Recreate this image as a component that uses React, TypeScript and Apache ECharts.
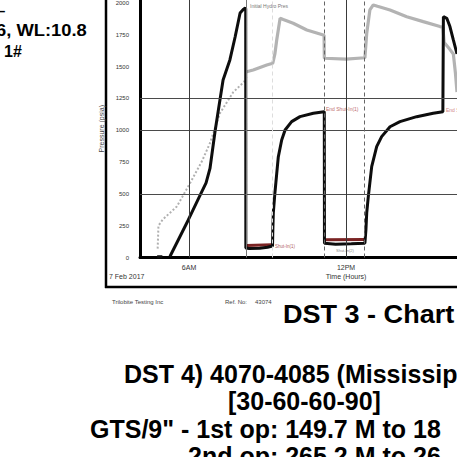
import React, { useEffect, useRef } from 'react';
import * as echarts from 'echarts';

const FONT = '"Liberation Sans", Arial, Helvetica, sans-serif';

// time in hours since midnight, pressure in psia
const blackGauge: (number | string)[][] = [
  [4.78, 6], [4.98, 6], [5.1, '-'],
  [5.27, 8], [5.97, 295], [6.4, 480], [6.65, 586], [6.8, 700], [6.99, 987], [7.18, 1238],
  [7.3, 1395], [7.56, 1553], [7.76, 1733], [7.95, 1922], [8.07, 1950], [8.15, 1962],
  [8.165, 1955], [8.17, 75], [8.3, 70], [8.7, 72], [9.0, 80], [9.19, 90],
  [9.2, 200], [9.22, 350], [9.28, 505], [9.35, 660], [9.41, 790], [9.54, 924], [9.67, 1002],
  [9.92, 1068], [10.24, 1107], [10.75, 1134], [11.16, 1146],
  [11.168, 1140], [11.175, 112], [11.6, 105], [12.2, 108], [12.72, 112],
  [12.76, 220], [12.79, 350], [12.85, 478], [12.98, 714], [13.17, 871], [13.36, 950],
  [13.68, 1028], [14.06, 1068], [14.7, 1107], [15.33, 1134], [15.7, 1146],
  [15.715, 1146], [15.72, 1893], [15.85, 1880], [15.97, 1815], [16.1, 1710], [16.24, 1600],
];

const grayRise: number[][] = [
  [4.8, 70], [4.83, 250], [5.0, 300], [5.53, 400], [6.04, 585], [6.5, 760], [6.8, 900],
  [7.18, 1134], [7.69, 1300], [8.1, 1380], [8.2, 1421],
];

const grayGauge: number[][] = [
  [8.2, 1460], [8.45, 1474], [8.97, 1513], [9.2, 1527], [9.28, 1600], [9.35, 1710],
  [9.48, 1880], [9.6, 1870], [9.98, 1841], [10.5, 1788], [11.13, 1749], [11.16, 1745],
  [11.17, 1566], [12.0, 1560], [12.72, 1570], [12.79, 1762], [12.91, 1946], [13.04, 1985],
  [13.2, 1975], [13.68, 1946], [14.32, 1893], [14.95, 1854], [15.59, 1815], [15.7, 1810],
  [15.75, 1690], [15.95, 1640], [16.1, 1600], [16.18, 1450], [16.24, 1300],
];

const redFlow: (number | string)[][] = [
  [8.2, 95], [9.18, 100], [9.19, '-'], [11.18, 140], [12.72, 142],
];

const gridLevels = [500, 1000, 1250];
const hourLines = [6, 12];
const dashedTimes = [11.16, 12.69];
const faintDashedTimes = [9.19];
const markerTimes = [8.2];

const xTickLabels: [number, string][] = [
  [6, '6AM'],
  [12, '12PM\nTime (Hours)'],
];
const yTickStep = 250;

export default function App() {
  const ref = useRef<HTMLDivElement>(null);

  useEffect(() => {
    if (!ref.current) return;
    const chart = echarts.init(ref.current, undefined, { renderer: 'svg' });

    const markData: any[] = [
      ...gridLevels.map((v) => ({ yAxis: v, lineStyle: { color: '#4a4a4a', width: 1, type: 'solid' } })),
      ...hourLines.map((v) => ({ xAxis: v, lineStyle: { color: '#3a3a3a', width: 1, type: 'solid' } })),
      ...markerTimes.map((v) => ({ xAxis: v, lineStyle: { color: '#777', width: 1, type: 'solid' } })),
      ...dashedTimes.map((v) => ({ xAxis: v, lineStyle: { color: '#666', width: 1, type: [4, 3] } })),
      ...faintDashedTimes.map((v) => ({ xAxis: v, lineStyle: { color: '#ddd', width: 1, type: [4, 3] } })),
    ];

    const tinyText = (text: string, x: number, y: number, fill: string, size = 5) => ({
      type: 'text', x, y, silent: true,
      style: { text, fill, fontSize: size, fontFamily: FONT, align: 'left', verticalAlign: 'middle' },
    });
    const bigText = (text: string, x: number, y: number, size: number, scaleX = 1) => ({
      type: 'text', x, y, scaleX, silent: true,
      style: { text, fill: '#000', fontSize: size, fontWeight: 'bold', fontFamily: FONT, align: 'left', verticalAlign: 'middle' },
    });

    const option: any = {
      animation: false,
      backgroundColor: '#ffffff',
      grid: { left: 140, right: 0, top: 0, bottom: 199.5, containLabel: false, outerBoundsMode: 'none' },
      xAxis: {
        type: 'value', min: 4.125, max: 16.24, interval: 0.125,
        axisLine: { show: true, onZero: false, lineStyle: { color: '#000', width: 3 } },
        axisTick: { show: false },
        splitLine: { show: false },
        axisLabel: {
          show: true, margin: 5, fontSize: 7, lineHeight: 9, color: '#333', fontFamily: FONT,
          showMinLabel: false, showMaxLabel: false,
          formatter: (v: number) => {
            const f = xTickLabels.find((t) => Math.abs(t[0] - v) < 1e-6);
            return f ? f[1] : '';
          },
        },
      },
      yAxis: {
        type: 'value', min: 0, max: 2024, interval: yTickStep,
        name: 'Pressure (psia)', nameLocation: 'middle', nameGap: 29, nameRotate: 90,
        nameTextStyle: { fontSize: 7, color: '#444', fontFamily: FONT },
        axisLine: { show: true, lineStyle: { color: '#000', width: 3 } },
        axisTick: { show: false },
        splitLine: { show: false },
        axisLabel: {
          margin: 11, fontSize: 6, color: '#333', fontFamily: FONT,
          formatter: (v: number) => (Math.abs(v % yTickStep) < 1e-6 ? String(v) : ''),
        },
      },
      series: [
        {
          type: 'line', data: [], z: 1, silent: true,
          markLine: { silent: true, symbol: 'none', label: { show: false }, animation: false, data: markData },
        },
        {
          type: 'line', data: grayRise, z: 2, symbol: 'none', silent: true,
          lineStyle: { color: '#b0b0b0', width: 2, type: [2, 2] },
        },
        {
          type: 'line', data: grayGauge, z: 2, symbol: 'none', silent: true,
          lineStyle: { color: '#b3b3b3', width: 3.2 },
        },
        {
          type: 'line', data: redFlow, z: 3, symbol: 'none', silent: true, connectNulls: false,
          lineStyle: { color: '#7a2323', width: 3 },
        },
        {
          type: 'line', data: blackGauge, z: 4, symbol: 'none', silent: true, connectNulls: false,
          lineStyle: { color: '#0d0d0d', width: 3 },
        },
      ],
      graphic: [
        { type: 'line', silent: true, shape: { x1: 106, y1: 0, x2: 106, y2: 288 }, style: { stroke: '#000', lineWidth: 2.5 } },
        { type: 'line', silent: true, shape: { x1: 105, y1: 287, x2: 457, y2: 287 }, style: { stroke: '#000', lineWidth: 2.5 } },
        tinyText('7 Feb 2017', 109, 276, '#333', 7),
        tinyText('Initial Hydro Pres', 250, 6, '#777', 5),
        tinyText('Shut-In(1)', 275, 246, '#b06060', 4.5),
        tinyText('End Shut-In(1)', 326, 109, '#c07070', 5),
        tinyText('End Shut-In(2)', 446, 110, '#d08888', 5),
        tinyText('Shut-In(2)', 336, 250, '#888', 4),
        tinyText('Trilobite Testing Inc', 112, 302, '#444', 6),
        tinyText('Ref. No:', 225, 302, '#444', 6),
        tinyText('43074', 255, 302, '#444', 6),
        bigText('–', -3, 10, 15),
        bigText('6, WL:10.8', -4, 30, 17, 1.08),
        bigText('1#', 4, 51.5, 16),
        bigText('DST 3 - Chart', 283, 314, 26, 1.04),
        bigText('DST 4) 4070-4085 (Mississip', 124, 373.5, 25),
        bigText('[30-60-60-90]', 228, 401, 25),
        bigText('GTS/9" - 1st op: 149.7 M to 18', 90, 429, 25),
        bigText('2nd op: 265.2 M to 26', 188, 456, 25),
      ],
    };

    chart.setOption(option);
    return () => chart.dispose();
  }, []);

  return (
    <div
      ref={ref}
      style={{ position: 'fixed', left: 0, top: 0, width: 457, height: 457, background: '#fff' }}
    />
  );
}
